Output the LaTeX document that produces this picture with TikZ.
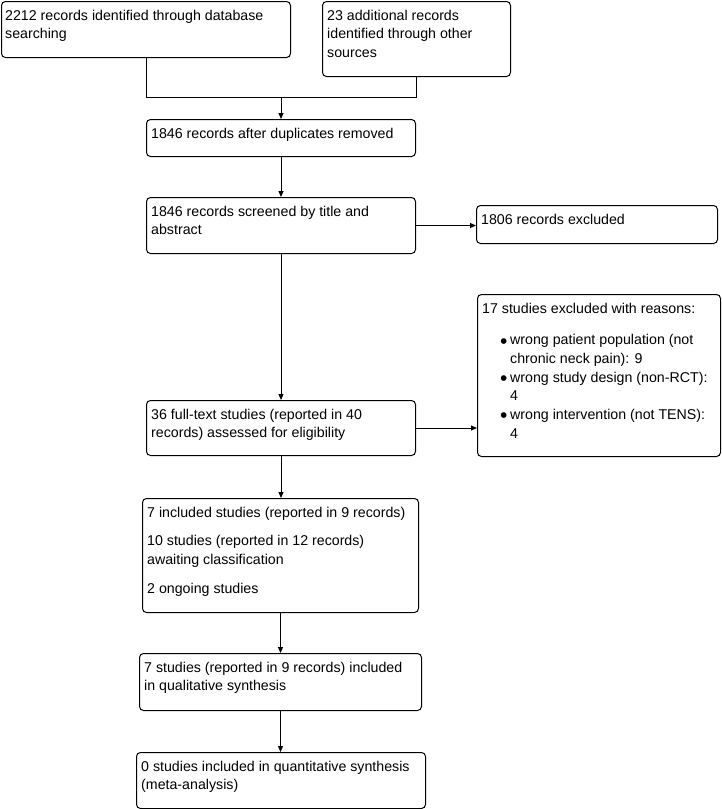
\documentclass[tikz,border=0pt]{standalone}
\usepackage{fontspec}
\setmainfont{Liberation Sans}
\usetikzlibrary{arrows.meta}
\newcommand{\bigdot}{\makebox[10pt][l]{\raisebox{-3.2pt}{\fontsize{21}{18.7}\selectfont\textbullet}}}
\begin{document}
\begin{tikzpicture}[x=1pt,y=-1pt,
  box/.style={draw, line width=1pt, rounded corners=4pt, inner sep=0pt, anchor=north west},
  txt/.style={anchor=north west, inner sep=0pt, align=left, font=\fontsize{14.2}{18.7}\selectfont},
  link/.style={line width=1pt},
  arr/.style={line width=1pt, -{Triangle[length=6pt,width=5pt]}}]
\useasboundingbox (0,0) rectangle (721,809);

% boxes
\node[box, minimum width=289pt, minimum height=56pt] (A) at (1,1) {};
\node[box, minimum width=188pt, minimum height=75pt] (B) at (322,1) {};
\node[box, minimum width=269pt, minimum height=37pt] (C) at (146,119) {};
\node[box, minimum width=269pt, minimum height=56pt] (D) at (146,197) {};
\node[box, minimum width=241pt, minimum height=38pt] (E) at (476,205) {};
\node[box, minimum width=269pt, minimum height=55pt] (F) at (146,400) {};
\node[box, minimum width=243pt, minimum height=162pt] (G) at (477,294) {};
\node[box, minimum width=276pt, minimum height=114pt] (H) at (142,498) {};
\node[box, minimum width=282pt, minimum height=57pt] (I) at (139,653) {};
\node[box, minimum width=289pt, minimum height=56pt] (J) at (136,752) {};

% texts
\node[txt] (tA) at ([shift={(4,5.9)}]A.north west) {\strut 2212 records identified through database\\searching};
\node[txt] (tB) at ([shift={(5,5.9)}]B.north west) {\strut 23 additional records\\identified through other\\sources};
\node[txt] (tC) at ([shift={(5,5.9)}]C.north west) {\strut 1846 records after duplicates removed};
\node[txt] (tD) at ([shift={(5,5.9)}]D.north west) {\strut 1846 records screened by title and\\abstract};
\node[txt] (tE) at ([shift={(5,5.9)}]E.north west) {\strut 1806 records excluded};
\node[txt] (tF) at ([shift={(5,5.9)}]F.north west) {\strut 36 full-text studies (reported in 40\\records) assessed for eligibility};
\node[txt] (tG) at ([shift={(5,5.9)}]G.north west) {\strut 17 studies excluded with reasons:\\[13pt]
\hspace*{18pt}\bigdot wrong patient population (not\\
\hspace*{28pt}chronic neck pain): 9\\
\hspace*{18pt}\bigdot wrong study design (non-RCT):\\
\hspace*{28pt}4\\
\hspace*{18pt}\bigdot wrong intervention (not TENS):\\
\hspace*{28pt}4};
\node[txt] (tH) at ([shift={(5,5.9)}]H.north west) {\strut 7 included studies (reported in 9 records)\\[10pt]
10 studies (reported in 12 records)\\awaiting classification\\[10pt]
2 ongoing studies};
\node[txt] (tI) at ([shift={(5,5.9)}]I.north west) {\strut 7 studies (reported in 9 records) included\\in qualitative synthesis};
\node[txt] (tJ) at ([shift={(5,5.9)}]J.north west) {\strut 0 studies included in quantitative synthesis\\(meta-analysis)};

% connectors
\path (C.north) ++(0,-22) coordinate (m);
\draw[link] (A.south) |- (m);
\draw[link] (B.south) |- (m);
\draw[arr] (m) -- (C.north);
\draw[arr] (C.south) -- (D.north);
\draw[arr] (D.east) -- (D.east -| E.west);
\draw[arr] (D.south) -- (F.north);
\draw[arr] (F.east) -- (F.east -| G.west);
\draw[arr] (F.south) -- (F.south |- H.north);
\draw[arr] (H.south) -- (H.south |- I.north);
\draw[arr] (I.south) -- (I.south |- J.north);
\end{tikzpicture}
\end{document}
